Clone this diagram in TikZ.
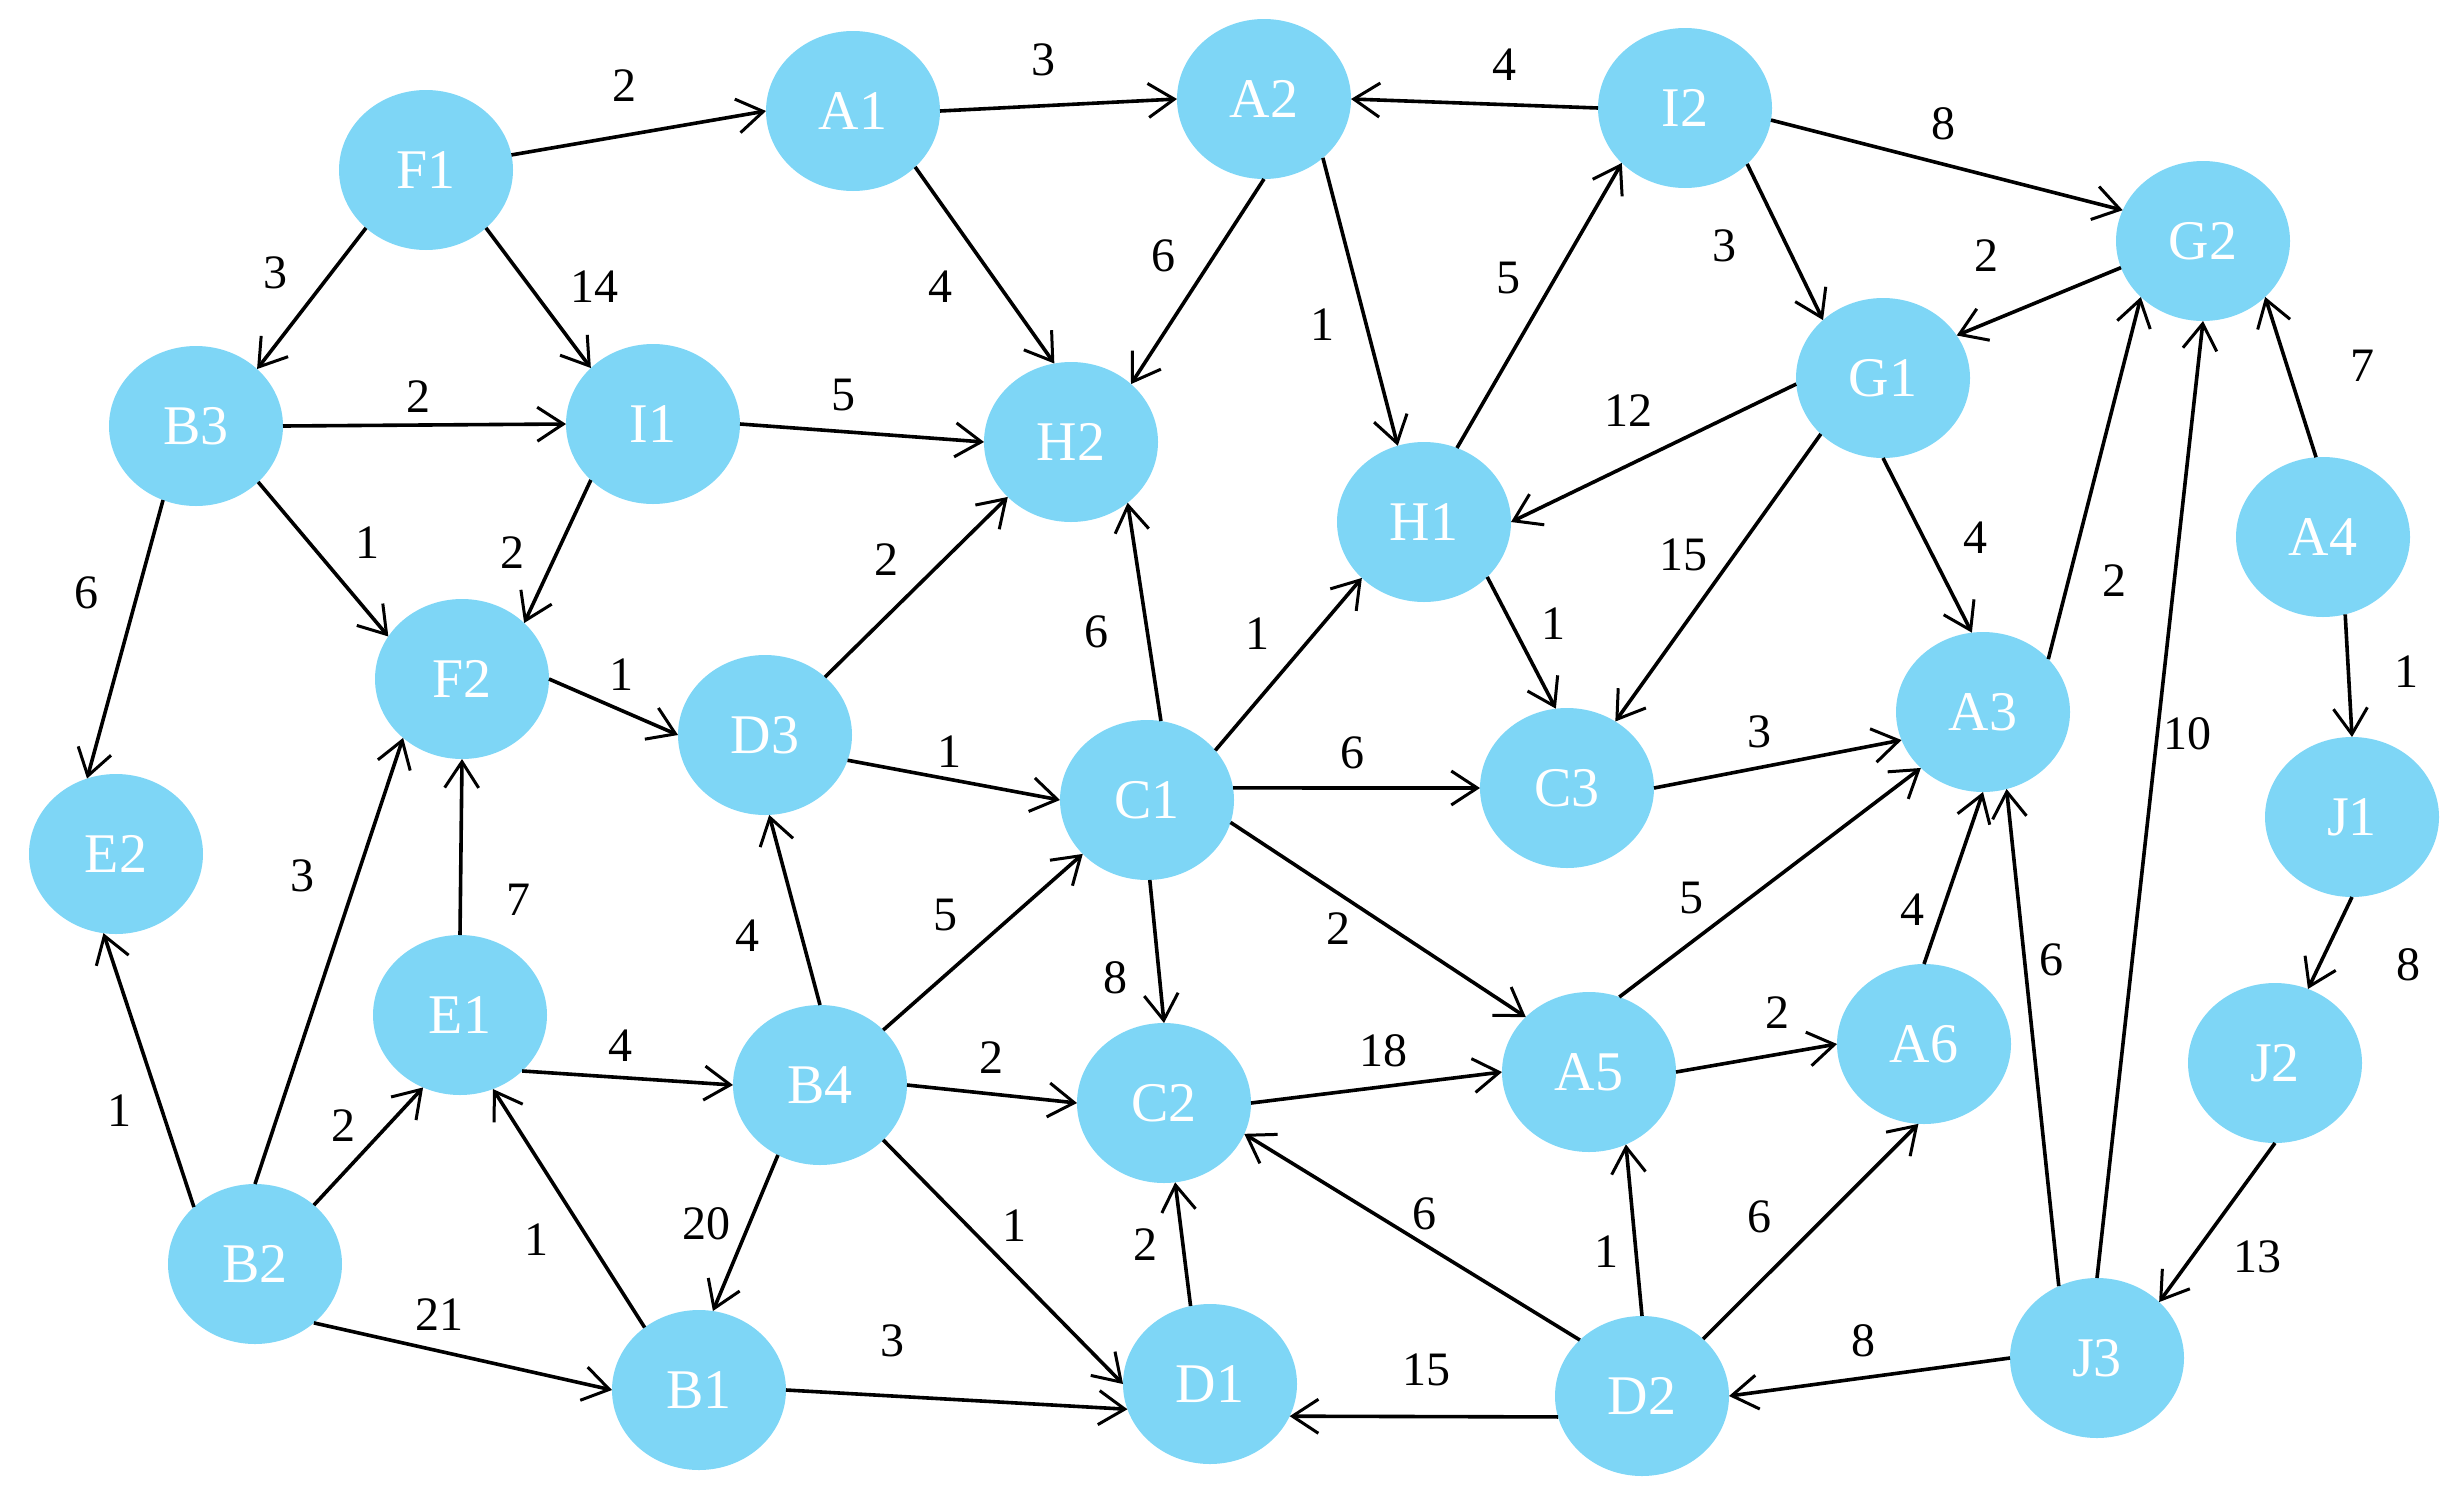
\documentclass[tikz,border=0pt]{standalone}
\usepackage{fontspec}
\setmainfont{Liberation Serif}
\usetikzlibrary{arrows.meta,shapes.geometric}
\definecolor{nodeblue}{RGB}{126,214,246}
\begin{document}
\begin{tikzpicture}[x=1pt,y=-1pt,
  vtx/.style={ellipse,fill=nodeblue,draw=none,minimum width=174pt,minimum height=160pt,inner sep=0pt,outer sep=0pt,text=white,font=\fontsize{56}{60}\selectfont},
  arr/.style={line width=3.6pt,-{Straight Barb[length=26pt,width=34pt,line width=3pt]}},
  lbl/.style={font=\fontsize{48}{52}\selectfont,text=black}]
\useasboundingbox (0,0) rectangle (2459,1491);
% nodes
\node[vtx] (F1) at (426,170) {F1};
\node[vtx] (A1) at (853,111) {A1};
\node[vtx] (A2) at (1264,99) {A2};
\node[vtx] (I2) at (1685,108) {I2};
\node[vtx] (G2) at (2203,241) {G2};
\node[vtx] (B3) at (196,426) {B3};
\node[vtx] (I1) at (653,424) {I1};
\node[vtx] (H2) at (1071,442) {H2};
\node[vtx] (G1) at (1883,378) {G1};
\node[vtx] (H1) at (1424,522) {H1};
\node[vtx] (A4) at (2323,537) {A4};
\node[vtx] (F2) at (462,679) {F2};
\node[vtx] (D3) at (765,735) {D3};
\node[vtx] (C1) at (1147,800) {C1};
\node[vtx] (C3) at (1567,788) {C3};
\node[vtx] (A3) at (1983,712) {A3};
\node[vtx] (J1) at (2352,817) {J1};
\node[vtx] (E2) at (116,854) {E2};
\node[vtx] (E1) at (460,1015) {E1};
\node[vtx] (B4) at (820,1085) {B4};
\node[vtx] (C2) at (1164,1103) {C2};
\node[vtx] (A5) at (1589,1072) {A5};
\node[vtx] (A6) at (1924,1044) {A6};
\node[vtx] (J2) at (2275,1063) {J2};
\node[vtx] (B2) at (255,1264) {B2};
\node[vtx] (B1) at (699,1390) {B1};
\node[vtx] (D1) at (1210,1384) {D1};
\node[vtx] (D2) at (1642,1396) {D2};
\node[vtx] (J3) at (2097,1358) {J3};
% edges
\draw[arr] (F1.10) -- (A1.180) node[lbl] at (624,86) {2};
\draw[arr] (A1.0) -- (A2.180) node[lbl] at (1043,60) {3};
\draw[arr] (I2.180) -- (A2.0) node[lbl] at (1504,65) {4};
\draw[arr] (I2.352) -- (G2.159) node[lbl] at (1943,124) {8};
\draw[arr] (F1.224) -- (B3.43) node[lbl] at (275,273) {3};
\draw[arr] (F1.316) -- (I1.138) node[lbl] at (594,287) {14};
\draw[arr] (A1.318) -- (H2.102) node[lbl] at (940,287) {4};
\draw[arr] (A2.270) -- (H2.44) node[lbl] at (1163,256) {6};
\draw[arr] (A2.315) -- (H1.109) node[lbl] at (1322,325) {1};
\draw[arr] (H1.66) -- (I2.221) node[lbl] at (1508,278) {5};
\draw[arr] (I2.318) -- (G1.136) node[lbl] at (1724,246) {3};
\draw[arr] (G2.198) -- (G1.30) node[lbl] at (1986,256) {2};
\draw[arr] (B3.0) -- (I1.180) node[lbl] at (418,397) {2};
\draw[arr] (I1.0) -- (H2.180) node[lbl] at (843,395) {5};
\draw[arr] (G1.184) -- (H1.0) node[lbl] at (1628,411) {12};
\draw[arr] (B3.246) -- (E2.111) node[lbl] at (86,593) {6};
\draw[arr] (B3.318) -- (F2.150) node[lbl] at (367,543) {1};
\draw[arr] (I1.222) -- (F2.42) node[lbl] at (512,553) {2};
\draw[arr] (D3.44) -- (H2.221) node[lbl] at (886,560) {2};
\draw[arr] (C1.80) -- (H2.313) node[lbl] at (1096,632) {6};
\draw[arr] (C1.36) -- (H1.222) node[lbl] at (1257,634) {1};
\draw[arr] (H1.319) -- (C3.98) node[lbl] at (1553,624) {1};
\draw[arr] (G1.222) -- (C3.54) node[lbl] at (1683,555) {15};
\draw[arr] (G1.270) -- (A3.98) node[lbl] at (1975,538) {4};
\draw[arr] (A3.39) -- (G2.222) node[lbl] at (2114,581) {2};
\draw[arr] (A4.95) -- (G2.318) node[lbl] at (2362,366) {7};
\draw[arr] (A4.286) -- (J1.90) node[lbl] at (2406,672) {1};
\draw[arr] (F2.0) -- (D3.180) node[lbl] at (621,675) {1};
\draw[arr] (D3.343) -- (C1.180) node[lbl] at (949,752) {1};
\draw[arr] (C1.8) -- (C3.180) node[lbl] at (1352,753) {6};
\draw[arr] (C3.0) -- (A3.199) node[lbl] at (1759,732) {3};
\draw[arr] (J3.90) -- (G2.270) node[lbl] at (2187,734) {10};
\draw[arr] (B2.137) -- (E2.261) node[lbl] at (119,1111) {1};
\draw[arr] (B2.90) -- (F2.225) node[lbl] at (302,876) {3};
\draw[arr] (E1.90) -- (F2.270) node[lbl] at (518,900) {7};
\draw[arr] (B4.90) -- (D3.273) node[lbl] at (747,936) {4};
\draw[arr] (B4.41) -- (C1.220) node[lbl] at (945,915) {5};
\draw[arr] (C1.272) -- (C2.90) node[lbl] at (1115,978) {8};
\draw[arr] (C1.345) -- (A5.139) node[lbl] at (1338,929) {2};
\draw[arr] (A5.68) -- (A3.222) node[lbl] at (1691,898) {5};
\draw[arr] (A6.90) -- (A3.270) node[lbl] at (1912,910) {4};
\draw[arr] (J3.118) -- (A3.287) node[lbl] at (2051,960) {6};
\draw[arr] (J1.270) -- (J2.66) node[lbl] at (2408,965) {8};
\draw[arr] (E1.318) -- (B4.180) node[lbl] at (620,1046) {4};
\draw[arr] (B4.0) -- (C2.180) node[lbl] at (991,1058) {2};
\draw[arr] (C2.0) -- (A5.180) node[lbl] at (1383,1051) {18};
\draw[arr] (A5.0) -- (A6.180) node[lbl] at (1777,1013) {2};
\draw[arr] (B2.45) -- (E1.243) node[lbl] at (343,1126) {2};
\draw[arr] (B1.131) -- (E1.294) node[lbl] at (536,1240) {1};
\draw[arr] (B4.239) -- (B1.80) node[lbl] at (706,1224) {20};
\draw[arr] (B4.319) -- (D1.180) node[lbl] at (1014,1226) {1};
\draw[arr] (D1.104) -- (C2.278) node[lbl] at (1145,1245) {2};
\draw[arr] (D2.138) -- (C2.339) node[lbl] at (1424,1214) {6};
\draw[arr] (D2.90) -- (A5.297) node[lbl] at (1606,1252) {1};
\draw[arr] (D2.43) -- (A6.266) node[lbl] at (1759,1217) {6};
\draw[arr] (J2.270) -- (J3.42) node[lbl] at (2257,1257) {13};
\draw[arr] (B2.315) -- (B1.180) node[lbl] at (439,1315) {21};
\draw[arr] (B1.0) -- (D1.197) node[lbl] at (892,1341) {3};
\draw[arr] (D2.194) -- (D1.338) node[lbl] at (1426,1370) {15};
\draw[arr] (J3.180) -- (D2.0) node[lbl] at (1863,1341) {8};
\end{tikzpicture}
\end{document}
